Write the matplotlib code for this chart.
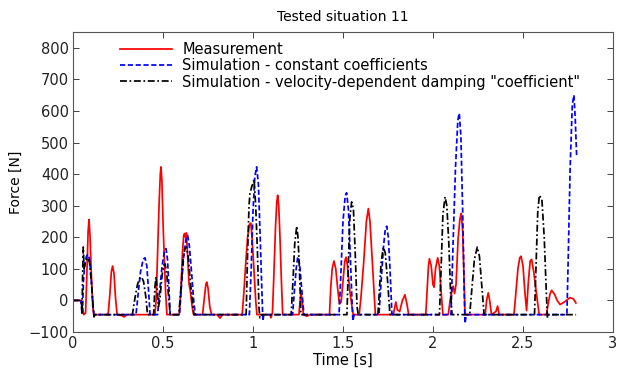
import numpy as np
import matplotlib
matplotlib.use("Agg")
import matplotlib.pyplot as plt

# values (time [s], force [N])
meas_t = [0.000, 0.045, 0.060, 0.070, 0.078, 0.084, 0.089, 0.095, 0.102, 0.110, 0.115,
          0.195, 0.205, 0.213, 0.220, 0.228, 0.236, 0.245, 0.270, 0.285, 0.300,
          0.455, 0.462, 0.470, 0.478, 0.485, 0.489, 0.494, 0.500, 0.508, 0.515, 0.522,
          0.590, 0.600, 0.608, 0.615, 0.620, 0.625, 0.630, 0.637, 0.645, 0.652, 0.662, 0.670,
          0.720, 0.730, 0.738, 0.743, 0.750, 0.760, 0.770, 0.800, 0.817, 0.830,
          0.940, 0.950, 0.960, 0.970, 0.980, 0.988, 0.995, 1.005, 1.015, 1.022,
          1.095, 1.100, 1.108, 1.116, 1.125, 1.132, 1.137, 1.143, 1.150, 1.158, 1.165,
          1.255, 1.262, 1.267, 1.273, 1.280, 1.300, 1.315,
          1.425, 1.432, 1.440, 1.450, 1.460, 1.470, 1.480, 1.490, 1.500, 1.510, 1.517,
          1.525, 1.538, 1.550, 1.557,
          1.590, 1.600, 1.615, 1.630, 1.641, 1.650, 1.660, 1.670, 1.680,
          1.780, 1.788, 1.794, 1.802, 1.815, 1.830, 1.844, 1.855, 1.865,
          1.960, 1.968, 1.975, 1.980, 1.990, 2.000, 2.006, 2.014, 2.026, 2.035, 2.045, 2.055,
          2.085, 2.095, 2.105, 2.112, 2.120, 2.128, 2.140, 2.150, 2.157, 2.165, 2.172, 2.178,
          2.290, 2.298, 2.307, 2.315, 2.325, 2.350, 2.359, 2.368,
          2.450, 2.460, 2.472, 2.482, 2.489, 2.500, 2.510, 2.520, 2.530, 2.540, 2.548,
          2.560, 2.575, 2.590,
          2.630, 2.640, 2.650, 2.659, 2.675, 2.690, 2.706, 2.730, 2.761, 2.780, 2.794]
meas_f = [0, 0, -45, -40, 100, 220, 256, 200, 80, -20, -45,
          -45, 20, 90, 109, 85, 10, -45, -48, -52, -45,
          -45, 0, 150, 300, 400, 423, 380, 250, 120, 20, -45,
          -45, 40, 150, 205, 212, 200, 214, 140, 50, 30, -20, -45,
          -45, 10, 50, 58, 40, -20, -45, -45, -56, -45,
          -45, 30, 120, 200, 240, 245, 200, 100, 0, -45,
          -45, -55, -40, 80, 230, 310, 333, 300, 200, 60, -45,
          -45, 0, 23, 0, -45, -50, -45,
          -45, 40, 100, 125, 100, 40, -10, -5, 60, 125, 137,
          110, 30, -20, -45,
          -45, 10, 120, 250, 291, 250, 150, 50, -45,
          -45, -20, -5, -30, -35, 0, 18, -10, -45,
          -45, 40, 110, 132, 110, 50, 42, 100, 135, 110, 30, -45,
          -45, 0, 30, 45, 22, 50, 200, 260, 275, 220, 80, -45,
          -45, 0, 24, 0, -45, -35, -18, -45,
          -45, 20, 100, 135, 140, 110, 30, -32, 60, 125, 130,
          90, 20, -45,
          -45, -10, 20, 32, 20, 0, -13, -5, 9, 5, -8]

const_t = [0.000, 0.045, 0.052, 0.058, 0.066, 0.075, 0.083, 0.092, 0.100, 0.110, 0.117,
           0.350, 0.360, 0.375, 0.390, 0.400, 0.410, 0.420, 0.428,
           0.470, 0.480, 0.495, 0.508, 0.517, 0.525, 0.533, 0.540,
           0.592, 0.602, 0.615, 0.628, 0.637, 0.647, 0.660, 0.672, 0.680,
           0.980, 0.990, 1.000, 1.010, 1.020, 1.030, 1.040, 1.050, 1.055, 1.060,
           1.220, 1.230, 1.240, 1.248, 1.252, 1.260, 1.270, 1.283,
           1.478, 1.488, 1.500, 1.512, 1.520, 1.530, 1.540, 1.550, 1.555, 1.562,
           1.700, 1.712, 1.725, 1.735, 1.743, 1.752, 1.762, 1.772,
           2.100, 2.110, 2.125, 2.138, 2.146, 2.155, 2.165, 2.174, 2.178, 2.185,
           2.744, 2.752, 2.762, 2.774, 2.783, 2.790, 2.798]
const_f = [0, 0, -45, 60, 120, 140, 146, 130, 80, -10, -45,
           -45, 10, 90, 130, 135, 110, 30, -45,
           -45, 20, 110, 155, 164, 130, 40, -45,
           -45, 40, 140, 195, 206, 170, 80, -10, -45,
           -45, 100, 280, 390, 423, 370, 200, 20, -65, -45,
           -45, 30, 100, 135, 138, 110, 40, -45,
           -45, 80, 250, 330, 341, 290, 150, 0, -65, -45,
           -45, 60, 170, 225, 235, 200, 90, -45,
           -45, 150, 420, 570, 593, 520, 280, 20, -73, -45,
           -45, 150, 420, 620, 650, 580, 460]

visc_t = [0.000, 0.045, 0.050, 0.054, 0.057, 0.062, 0.070, 0.078, 0.083, 0.092, 0.102,
          0.112, 0.117, 0.122,
          0.330, 0.342, 0.358, 0.372, 0.381, 0.392, 0.405, 0.414,
          0.448, 0.455, 0.461, 0.467, 0.475, 0.482, 0.495, 0.505, 0.511, 0.520, 0.530, 0.540,
          0.588, 0.600, 0.612, 0.622, 0.631, 0.640, 0.652, 0.665, 0.672,
          0.962, 0.970, 0.978, 0.983, 0.993, 1.006, 1.015, 1.025, 1.033, 1.038, 1.045,
          1.212, 1.222, 1.232, 1.243, 1.250, 1.258, 1.266,
          1.522, 1.530, 1.538, 1.548, 1.558, 1.568, 1.578, 1.585,
          1.694, 1.703, 1.712, 1.724, 1.735, 1.748, 1.761,
          2.036, 2.045, 2.055, 2.067, 2.077, 2.088, 2.098, 2.106,
          2.204, 2.215, 2.230, 2.246, 2.258, 2.272, 2.284,
          2.564, 2.572, 2.582, 2.591, 2.605, 2.618, 2.630, 2.636, 2.642, 2.795]
visc_f = [0, 0, -45, 100, 169, 100, 125, 133, 135, 120, 60,
          -20, -52, -45,
          -45, 0, 50, 72, 74, 60, 10, -45,
          -45, 40, 75, 40, -20, 0, 80, 112, 116, 90, 20, -45,
          -45, 40, 130, 165, 169, 140, 60, -10, -45,
          -45, 150, 300, 338, 360, 383, 300, 150, -20, -55, -45,
          -45, 60, 180, 235, 200, 100, -45,
          -45, 120, 260, 312, 290, 150, -20, -45,
          -45, 40, 120, 169, 150, 60, -45,
          -45, 100, 270, 328, 300, 180, 20, -45,
          -45, 30, 130, 169, 140, 40, -45,
          -45, 100, 280, 333, 320, 200, 20, -55, -45, -45]

labels = ['Measurement',
          'Simulation - constant coefficients',
          'Simulation - velocity-dependent damping "coefficient"']

plt.rcParams['font.family'] = ['DejaVu Sans']

fig = plt.figure(figsize=(6.26, 3.68), dpi=100)
ax = fig.add_axes([0.1166, 0.0978, 0.8626, 0.8152])

ax.plot(meas_t, meas_f, '-', color='red', lw=1.25, label=labels[0])
ax.plot(const_t, const_f, '--', color='blue', lw=1.25, dashes=(3, 1.5), label=labels[1])
ax.plot(visc_t, visc_f, '-.', color='black', lw=1.25, dashes=(4, 1.5, 1, 1.5), label=labels[2])

ax.set_xlim(0, 3)
ax.set_ylim(-100, 850)
ax.set_xticks(np.arange(0, 3.01, 0.5))
ax.set_xticklabels(['0', '0.5', '1', '1.5', '2', '2.5', '3'])
ax.set_yticks(np.arange(-100, 801, 100))

ax.tick_params(direction='in', top=True, right=True, length=4, width=0.6,
               labelsize=10.5, colors='#222222', pad=3)
for s in ax.spines.values():
    s.set_color('#555555')
    s.set_linewidth(0.8)

ax.set_title('Tested situation 11', fontsize=10, pad=8)
ax.set_xlabel('Time [s]', fontsize=10.5, labelpad=1)
ax.set_ylabel('Force [N]', fontsize=10, labelpad=4)

ax.legend(loc='upper left', bbox_to_anchor=(0.07, 0.997), frameon=False,
          fontsize=10.5, handlelength=3.6, handletextpad=0.7, labelspacing=0.1,
          borderaxespad=0.2)

fig.savefig('out.png', dpi=100)
